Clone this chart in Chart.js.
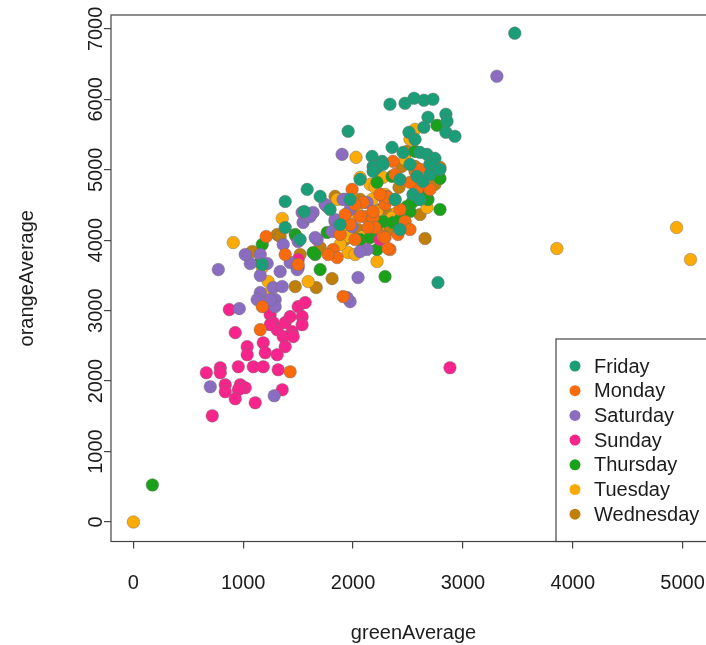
<!DOCTYPE html>
<html>
<head>
<meta charset="utf-8">
<script src="https://cdn.jsdelivr.net/npm/chart.js@4"></script>
<style>
  html, body { margin: 0; padding: 0; background: #fff; overflow: hidden; }
  #wrap { width: 730px; height: 645px; }
</style>
</head>
<body>
<div id="wrap"><canvas id="scatter" width="730" height="645"></canvas></div>
<script>
// legend order and colours
const days = ['Friday', 'Monday', 'Saturday', 'Sunday', 'Thursday', 'Tuesday', 'Wednesday'];
const dayColors = ['#1b9e77', '#f96a0c', '#8a6dc0', '#f7248b', '#1aa11a', '#fcaa06', '#c07f0b'];

const xTicks = [0, 1000, 2000, 3000, 4000, 5000];
const yTicks = [0, 1000, 2000, 3000, 4000, 5000, 6000, 7000];

// [greenAverage, orangeAverage] per weekday
const friday = [
  [3472, 6939], [2336, 5930], [2473, 5944], [2555, 6015], [2645, 5987], [2727, 6001], [2845, 5788],
  [2855, 5688], [2682, 5745], [2645, 5603], [2845, 5532], [2927, 5475], [2509, 5532], [2564, 5432],
  [1955, 5546], [2355, 5318], [2173, 5190], [2264, 5119], [2218, 5034], [2609, 5247], [2673, 5219],
  [2745, 5162], [2182, 5048], [2273, 5077], [2182, 4977], [2582, 4906], [2636, 4835], [2545, 4650],
  [2700, 4934], [1582, 4721], [1700, 4622], [1382, 4550], [1555, 4408], [2773, 3399], [2518, 5077],
  [2427, 4863], [2791, 5006], [2382, 4579], [2064, 4863], [1973, 4579], [1791, 4437], [2609, 4579],
  [1382, 4180], [2427, 4152], [1882, 4223], [1518, 4010], [2455, 5247], [2700, 5077], [1173, 3655],
];
const monday = [
  [2364, 5119], [1991, 4721], [2109, 4337], [2182, 4323], [2309, 4622], [2582, 4721], [1209, 4053],
  [2273, 4053], [2091, 4536], [2182, 4408], [2291, 4508], [2318, 4607], [2518, 4821], [2291, 4038],
  [2336, 3868], [1818, 3868], [2064, 4337], [1855, 3754], [2318, 3882], [1909, 3200], [1155, 2730],
  [1427, 2133], [1173, 3057], [1773, 3797], [2427, 4437], [2382, 4934], [2473, 4266], [2609, 5006],
  [1973, 4223], [1882, 4081], [2200, 4181], [2018, 4508], [2700, 4721], [1500, 3655], [1382, 3797],
  [1927, 4365], [2136, 4181], [2409, 4081], [2245, 4650], [2018, 4010], [2518, 4152],
];
const saturday = [
  [3309, 6328], [773, 3583], [1973, 3128], [1945, 3185], [2045, 3470], [700, 1920], [1282, 1792],
  [1064, 3669], [1218, 3669], [1155, 3498], [1336, 3555], [1273, 3328], [1355, 3342], [1155, 3256],
  [1127, 3157], [1291, 3157], [1291, 3057], [964, 3029], [1427, 3683], [1491, 3583], [1155, 3797],
  [1500, 3982], [1673, 4010], [1545, 4252], [1582, 4337], [1636, 4394], [1536, 4394], [1764, 4479],
  [1836, 4266], [1809, 4124], [1900, 5219], [1745, 4508], [1609, 4337], [1927, 4579], [2127, 4536],
  [1991, 4195], [1655, 4038], [1909, 4579], [1836, 4294], [1973, 4437], [2127, 3868], [2064, 3839],
  [1018, 3797], [1364, 3939], [1245, 3157],
];
const sunday = [
  [1500, 3726], [873, 3015], [927, 2688], [1218, 3043], [1245, 2944], [1500, 3057], [1564, 3114],
  [1273, 2830], [1309, 2730], [1382, 2830], [1427, 2915], [1536, 2915], [1536, 2801], [1445, 2702],
  [1364, 2631], [1455, 2631], [1382, 2489], [1036, 2489], [1036, 2375], [1182, 2545], [1200, 2403],
  [1309, 2375], [1318, 2161], [1091, 2204], [1182, 2204], [955, 2204], [791, 2190], [791, 2119],
  [664, 2119], [836, 1948], [836, 1849], [973, 1948], [1018, 1905], [955, 1877], [927, 1749],
  [1109, 1692], [1355, 1877], [718, 1507], [2882, 2190], [1500, 3612], [2245, 4010], [1245, 2801],
];
const thursday = [
  [173, 526], [2764, 5631], [2791, 4877], [2564, 5261], [2355, 4906], [2218, 4821], [2291, 4579],
  [2491, 4479], [2518, 4408], [2273, 4266], [2364, 4252], [1473, 4081], [1173, 3939], [1764, 4110],
  [2536, 4536], [2218, 3868], [1155, 3683], [1655, 3797], [1700, 3583], [2291, 3484], [1636, 3825],
  [1482, 4053], [2427, 4152], [2064, 4010], [2682, 4579], [2791, 4437], [2427, 4294], [2155, 4038],
  [2655, 4650],
];
const tuesday = [
  [0, 0], [3855, 3882], [4945, 4180], [5072, 3726], [2564, 5574], [2027, 5176], [1355, 4309],
  [909, 3967], [2064, 4892], [2273, 4892], [2155, 4792], [2200, 4750], [2455, 4337], [2673, 4465],
  [1909, 4124], [1945, 4053], [2109, 3967], [1855, 4579], [1955, 3825], [2091, 3939], [2218, 3697],
  [1591, 3413], [1227, 3413], [1200, 3228], [2218, 4408], [2036, 4394], [2400, 4394], [2091, 4053],
  [2018, 3797], [1973, 4294], [2291, 4650], [2382, 4579], [2518, 5432], [1173, 3612], [1955, 4365],
  [1882, 3939], [2173, 4579], [2355, 4323], [2473, 5148],
];
const wednesday = [
  [2418, 4750], [2564, 5048], [2700, 5077], [2791, 5034], [2745, 4792], [2427, 4337], [2400, 4195],
  [2655, 4024], [1836, 4622], [1309, 4081], [1336, 4053], [2491, 5261], [2445, 5048], [2445, 4181],
  [2218, 4152], [2564, 4977], [1082, 3839], [1809, 3455], [1664, 3328], [1473, 3342], [1700, 3896],
  [2245, 4437], [2064, 4579], [2609, 4365], [2336, 4152], [2173, 4365], [2045, 4152], [2336, 4365],
  [2591, 4579], [1927, 4010], [1518, 3797],
];
const series = [friday, monday, saturday, sunday, thursday, tuesday, wednesday];

const FONT = '"Liberation Sans", Arial, Helvetica, sans-serif';
const INK = '#1c1c1c';

// R-style box, rotated y labels and legend drawn on top of the library's scales
const rStyle = {
  id: 'rStyle',
  afterDraw(chart) {
    const { ctx, chartArea: a, scales } = chart;
    ctx.save();
    ctx.strokeStyle = '#444';
    ctx.lineWidth = 1.2;
    ctx.strokeRect(a.left, a.top, a.right - a.left, a.bottom - a.top);

    ctx.fillStyle = INK;
    ctx.font = '20px ' + FONT;
    ctx.textAlign = 'center';
    ctx.textBaseline = 'middle';
    scales.y.ticks.forEach(t => {
      const py = scales.y.getPixelForValue(t.value);
      ctx.save();
      ctx.translate(a.left - 15, py);
      ctx.rotate(-Math.PI / 2);
      ctx.fillText(String(t.value), 0, 0);
      ctx.restore();
    });

    // legend box, bottom right
    const lx = 556, ly = 339;
    ctx.fillStyle = '#fff';
    ctx.fillRect(lx, ly, a.right - lx, a.bottom - ly);
    ctx.strokeStyle = '#444';
    ctx.strokeRect(lx, ly, a.right - lx, a.bottom - ly);
    ctx.textAlign = 'left';
    days.forEach((d, i) => {
      const y = 366 + i * 24.7;
      ctx.beginPath();
      ctx.arc(575, y, 5.5, 0, Math.PI * 2);
      ctx.fillStyle = dayColors[i];
      ctx.fill();
      ctx.fillStyle = INK;
      ctx.fillText(d, 594, y + 1);
    });
    ctx.restore();
  }
};

new Chart(document.getElementById('scatter'), {
  type: 'scatter',
  data: {
    datasets: days.map((d, i) => ({
      label: d,
      data: series[i].map(p => ({ x: p[0], y: p[1] })),
      backgroundColor: dayColors[i],
      borderColor: 'rgba(110,110,110,0.55)',
      borderWidth: 0.8,
      pointRadius: 6.3,
    })),
  },
  options: {
    responsive: false,
    animation: false,
    events: [],
    layout: { padding: { top: 15, right: 14, left: 0, bottom: 0 } },
    plugins: { legend: { display: false }, tooltip: { enabled: false } },
    scales: {
      x: {
        min: -204, max: 5304,
        afterFit: s => { s.height = 103.5; },
        afterBuildTicks: s => { s.ticks = xTicks.map(v => ({ value: v })); },
        grid: { display: true, drawOnChartArea: false, drawTicks: true, tickLength: 7, color: '#444', lineWidth: 1.2 },
        border: { display: false },
        ticks: { color: INK, font: { size: 20, family: FONT }, padding: 23, maxRotation: 0, callback: v => String(v) },
        title: { display: true, text: 'greenAverage', color: INK, font: { size: 20, family: FONT }, padding: { top: 0, bottom: 0 } },
      },
      y: {
        min: -277, max: 7197,
        afterFit: s => { s.width = 111; },
        afterBuildTicks: s => { s.ticks = yTicks.map(v => ({ value: v })); },
        grid: { display: true, drawOnChartArea: false, drawTicks: true, tickLength: 7, color: '#444', lineWidth: 1.2 },
        border: { display: false },
        ticks: { display: false },
        title: { display: true, text: 'orangeAverage', color: INK, font: { size: 20, family: FONT }, padding: { top: 15, bottom: 0 } },
      },
    },
  },
  plugins: [rStyle],
});
</script>
</body>
</html>
